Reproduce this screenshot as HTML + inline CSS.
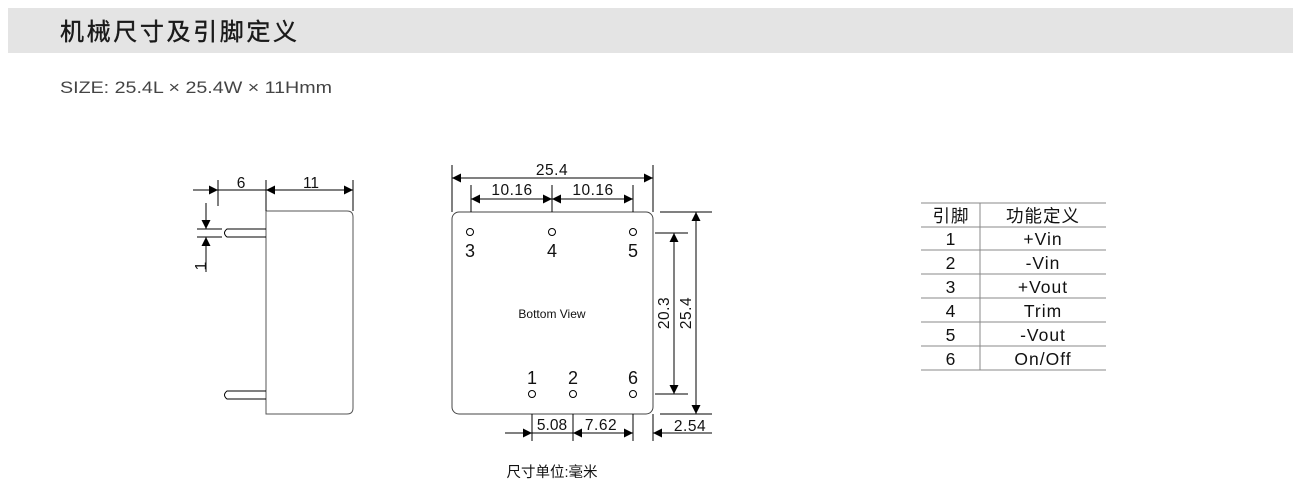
<!DOCTYPE html>
<html><head><meta charset="utf-8"><style>
html,body{margin:0;padding:0;background:#fff;width:1303px;height:490px;overflow:hidden}
svg{display:block}
text{font-family:"Liberation Sans","Noto Sans CJK SC",sans-serif;fill:#111}
</style></head><body>
<svg width="1303" height="490" viewBox="0 0 1303 490" xmlns="http://www.w3.org/2000/svg">
<defs>
<marker id="a" viewBox="0 0 10 10" refX="10" refY="5" markerWidth="16" markerHeight="9" markerUnits="userSpaceOnUse" orient="auto"><path d="M0,0L10,5L0,10z" fill="#000"/></marker>
</defs>
<rect x="8" y="8" width="1285" height="45" fill="#e4e4e4"/>
<text x="60" y="40" font-size="24" textLength="237" lengthAdjust="spacing" style="fill:#1a1a1a;stroke:#1a1a1a;stroke-width:0.4">机械尺寸及引脚定义</text>
<text x="60" y="93" font-size="17" textLength="272" lengthAdjust="spacingAndGlyphs" style="fill:#444">SIZE: 25.4L × 25.4W × 11Hmm</text>

<g stroke="#000" stroke-width="1" fill="none">
<path d="M266,211H347Q353,211 353,217V408Q353,414 347,414H266Z" stroke="#555"/>
<path d="M266,229H227Q222,233 227,237H266M266,391H227Q222,395 227,399H266"/>
<line x1="218" y1="180" x2="218" y2="206"/>
<line x1="266" y1="180" x2="266" y2="211"/>
<line x1="353" y1="180" x2="353" y2="211"/>
<line x1="193" y1="190" x2="218" y2="190" marker-end="url(#a)"/>
<line x1="218" y1="190" x2="266" y2="190"/>
<line x1="300" y1="190" x2="266" y2="190" marker-end="url(#a)"/>
<line x1="300" y1="190" x2="353" y2="190" marker-end="url(#a)"/>
<line x1="197" y1="229" x2="222" y2="229"/>
<line x1="197" y1="237" x2="222" y2="237"/>
<line x1="206" y1="203" x2="206" y2="229" marker-end="url(#a)"/>
<line x1="206" y1="272" x2="206" y2="237" marker-end="url(#a)"/>

<rect x="452" y="212" width="201" height="202" rx="7" stroke="#444"/>
<circle cx="470" cy="232" r="3.5"/><circle cx="552" cy="232" r="3.5"/><circle cx="633" cy="232" r="3.5"/>
<circle cx="532" cy="394" r="3.5"/><circle cx="573" cy="394" r="3.5"/><circle cx="633" cy="394" r="3.5"/>
<line x1="452" y1="165" x2="452" y2="212"/><line x1="653" y1="165" x2="653" y2="212"/>
<line x1="552" y1="178" x2="452" y2="178" marker-end="url(#a)"/>
<line x1="552" y1="178" x2="653" y2="178" marker-end="url(#a)"/>
<line x1="471" y1="185" x2="471" y2="212"/><line x1="552" y1="185" x2="552" y2="212"/><line x1="633" y1="185" x2="633" y2="212"/>
<line x1="511" y1="199" x2="471" y2="199" marker-end="url(#a)"/>
<line x1="511" y1="199" x2="552" y2="199" marker-end="url(#a)"/>
<line x1="593" y1="199" x2="552" y2="199" marker-end="url(#a)"/>
<line x1="593" y1="199" x2="633" y2="199" marker-end="url(#a)"/>
<line x1="660" y1="212" x2="712" y2="212"/><line x1="660" y1="414" x2="712" y2="414"/>
<line x1="696" y1="313" x2="696" y2="212" marker-end="url(#a)"/>
<line x1="696" y1="313" x2="696" y2="414" marker-end="url(#a)"/>
<line x1="655" y1="233" x2="688" y2="233"/><line x1="655" y1="394" x2="688" y2="394"/>
<line x1="674" y1="313" x2="674" y2="233" marker-end="url(#a)"/>
<line x1="674" y1="313" x2="674" y2="394" marker-end="url(#a)"/>
<line x1="532" y1="414" x2="532" y2="441"/><line x1="573" y1="414" x2="573" y2="441"/>
<line x1="633" y1="414" x2="633" y2="441"/><line x1="653" y1="414" x2="653" y2="441"/>
<line x1="505" y1="433" x2="532" y2="433" marker-end="url(#a)"/>
<line x1="532" y1="433" x2="573" y2="433"/>
<line x1="603" y1="433" x2="573" y2="433" marker-end="url(#a)"/>
<line x1="603" y1="433" x2="633" y2="433" marker-end="url(#a)"/>
<line x1="712" y1="433" x2="653" y2="433" marker-end="url(#a)"/>

<g stroke="#888">
<line x1="921" y1="203" x2="1106" y2="203"/>
<line x1="921" y1="227" x2="1106" y2="227"/>
<line x1="921" y1="250" x2="1106" y2="250"/>
<line x1="921" y1="274" x2="1106" y2="274"/>
<line x1="921" y1="298" x2="1106" y2="298"/>
<line x1="921" y1="322" x2="1106" y2="322"/>
<line x1="921" y1="346" x2="1106" y2="346"/>
<line x1="921" y1="370" x2="1106" y2="370"/>
<line x1="980" y1="203" x2="980" y2="370"/>
</g>
</g>

<g font-size="15.5" text-anchor="middle">
<text x="241" y="188">6</text>
<text x="311" y="188">11</text>
<text transform="translate(206,266) rotate(-90)">1</text>
<text x="552" y="175" letter-spacing="0.5">25.4</text>
<text x="512" y="195" letter-spacing="0.5">10.16</text>
<text x="593" y="195" letter-spacing="0.5">10.16</text>
<text transform="translate(691,313) rotate(-90)" letter-spacing="0.5">25.4</text>
<text transform="translate(669,313) rotate(-90)" letter-spacing="0.5">20.3</text>
<text x="552" y="430">5.08</text>
<text x="601" y="430" letter-spacing="0.5">7.62</text>
<text x="690" y="431" letter-spacing="0.5">2.54</text>
</g>
<g font-size="18" text-anchor="middle">
<text x="470" y="257">3</text><text x="552" y="257">4</text><text x="633" y="257">5</text>
<text x="532" y="384">1</text><text x="573" y="384">2</text><text x="633" y="384">6</text>
</g>
<text x="552" y="318" font-size="12" text-anchor="middle">Bottom View</text>
<text x="552" y="477" font-size="14.5" text-anchor="middle">尺寸单位:毫米</text>

<g font-size="17.5" text-anchor="middle" style="fill:#222" letter-spacing="1">
<text x="951" y="222">引脚</text><text x="1043" y="222">功能定义</text>
<text x="951" y="245">1</text><text x="1043" y="245">+Vin</text>
<text x="951" y="269">2</text><text x="1043" y="269">-Vin</text>
<text x="951" y="293">3</text><text x="1043" y="293">+Vout</text>
<text x="951" y="317">4</text><text x="1043" y="317">Trim</text>
<text x="951" y="341">5</text><text x="1043" y="341">-Vout</text>
<text x="951" y="365">6</text><text x="1043" y="365">On/Off</text>
</g>
</svg>
</body></html>
